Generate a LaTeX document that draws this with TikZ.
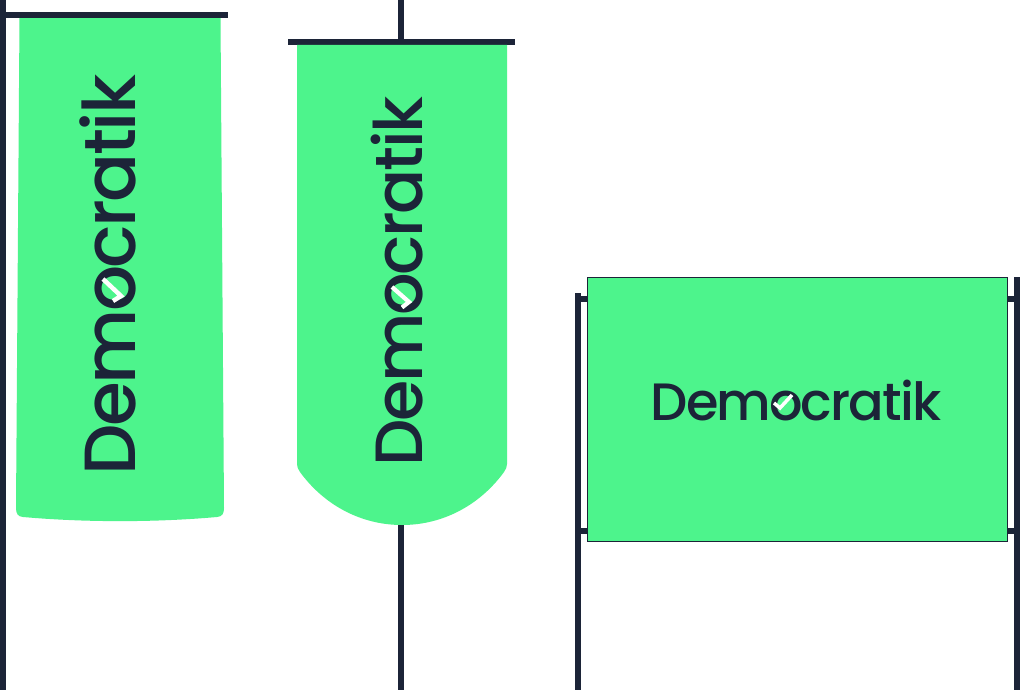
\documentclass[tikz,border=0pt]{standalone}
\usepackage{fontspec}
\newfontfamily\logofont[LetterSpace=-3.6]{Poppins Medium}
\definecolor{flaggreen}{HTML}{4DF48C}
\definecolor{poledark}{HTML}{1C2438}
\tikzset{
  pole/.style={fill=poledark,draw=none},
  flagcloth/.style={fill=flaggreen,draw=none},
  logotext/.style={inner sep=0pt,text=poledark,font=\logofont\fontsize{72.5}{74}\selectfont,anchor=center,transform shape},
  tick/.style={draw=white,line join=miter,line cap=butt}
}
\begin{document}
\begin{tikzpicture}[x=1pt,y=-1pt]
\useasboundingbox (0,0) rectangle (1020,690);
\fill[white] (0,0) rectangle (1020,690);
% flag 1
\path[flagcloth] (19.5,18) -- (220.5,18) -- (224,508) .. controls (224,514) and (222,516.5) .. (217,517)
  .. controls (155,522.5) and (85,522.5) .. (23,517) .. controls (18,516.5) and (16,514) .. (16,508) -- cycle;
\path[pole] (0,0) rectangle (6,690);
\path[pole] (0,12) rectangle (228,18);
\node[logotext,rotate=90,scale=1] (logoa) at (108,275) {Democratik};
\draw[tick,line width=4.5pt] (103,279) -- (121,296) -- (113,301);
% flag 2
\path[pole] (398,0) rectangle (404,40);
\path[pole] (398,520) rectangle (404,690);
\path[pole] (288,39) rectangle (515,45);
\path[flagcloth] (297,45) -- (507,45) -- (507,464) .. controls (507,467) and (506,469) .. (504,472)
  .. controls (480,505) and (443,525) .. (402,525) .. controls (361,525) and (324,505) .. (300,472)
  .. controls (298,469) and (297,467) .. (297,464) -- cycle;
\node[logotext,rotate=90,scale=0.922] (logob) at (397.5,281.5) {Democratik};
\draw[tick,line width=4.2pt] (392,287) -- (409,302) -- (402,307.5);
% flag 3
\path[pole] (575,293) rectangle (581,690);
\path[pole] (1014,277) rectangle (1020,690);
\path[pole] (578,296) rectangle (1017,302);
\path[pole] (578,528) rectangle (1017,534);
\path[flagcloth,draw=poledark,line width=0.9pt] (587,277) rectangle (1007,541);
\node[logotext,scale=0.725] (logoc) at (796,400) {Democratik};
\draw[tick,line width=3.5pt] (792,395) -- (780,408) -- (774,403);
\end{tikzpicture}
\end{document}
